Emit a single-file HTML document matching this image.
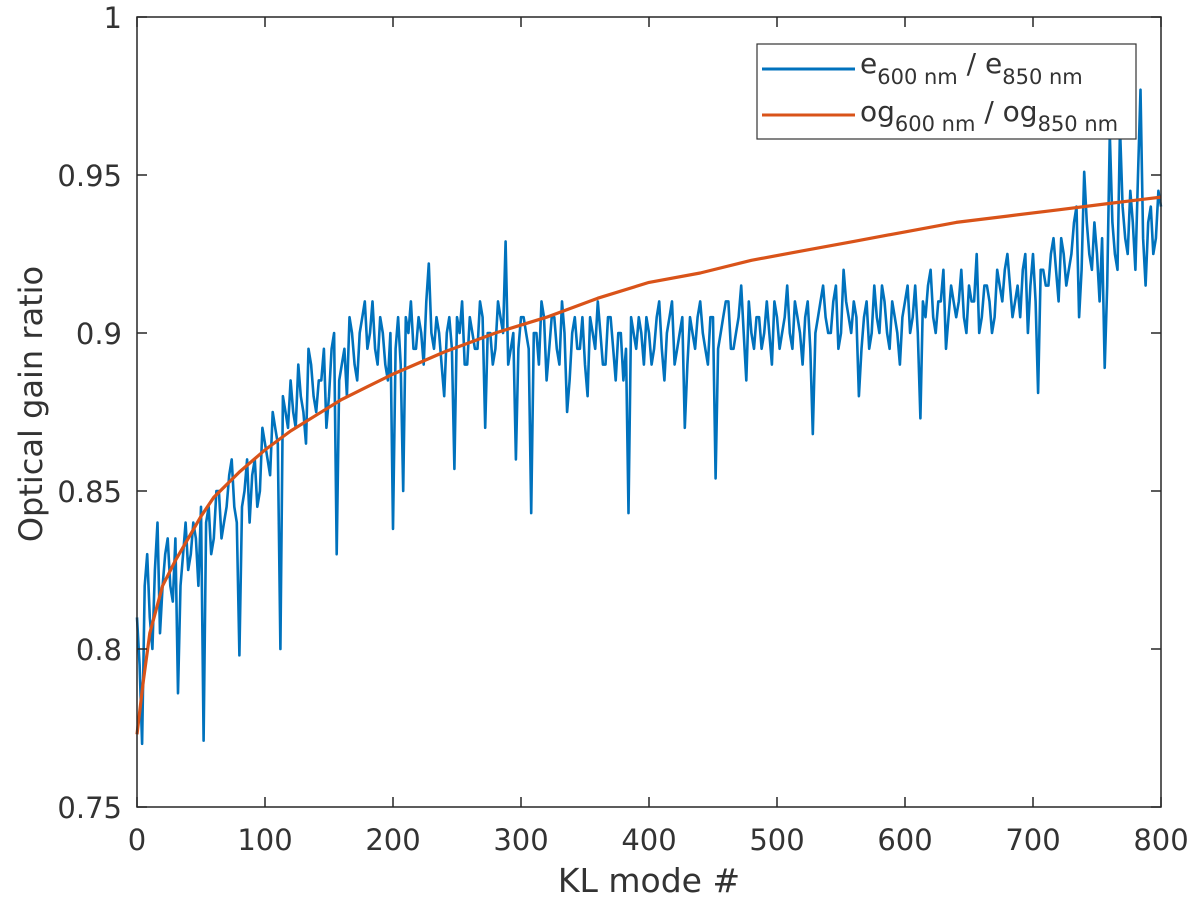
<!DOCTYPE html>
<html><head><meta charset="utf-8">
<style>
html,body{margin:0;padding:0;background:#fff;}
svg{display:block;font-family:"DejaVu Sans","Liberation Sans",sans-serif;}
</style></head>
<body>
<svg id="chart" width="1200" height="908" viewBox="0 0 1200 908" xmlns="http://www.w3.org/2000/svg">
<rect width="1200" height="908" fill="#fff"/>
<g id="plot"></g>
</svg>
<script>
const xTicks = [0,100,200,300,400,500,600,700,800];
const yTicks = [0.75,0.8,0.85,0.9,0.95,1];
const yTickLabels = ["0.75","0.8","0.85","0.9","0.95","1"];
const blueStep = 4;
const blueValues = [0.81,0.77,0.83,0.80,0.84,0.82,0.835,0.815,0.786,0.83,0.825,0.84,0.82,0.771,0.845,0.835,0.85,0.84,0.855,0.845,
0.798,0.85,0.84,0.86,0.85,0.865,0.855,0.87,0.80,0.875,0.885,0.87,0.88,0.865,0.89,0.875,0.885,0.87,0.895,0.83,
0.89,0.88,0.9,0.885,0.905,0.895,0.91,0.89,0.9,0.885,0.838,0.905,0.85,0.9,0.895,0.905,0.89,0.922,0.895,0.9,
0.88,0.905,0.857,0.9,0.89,0.905,0.895,0.91,0.87,0.9,0.895,0.905,0.929,0.895,0.86,0.905,0.9,0.843,0.9,0.91,
0.885,0.905,0.895,0.91,0.875,0.9,0.895,0.905,0.88,0.9,0.91,0.89,0.905,0.895,0.9,0.885,0.843,0.9,0.905,0.89,
0.9,0.895,0.91,0.885,0.905,0.89,0.9,0.87,0.905,0.895,0.91,0.895,0.905,0.854,0.9,0.91,0.895,0.9,0.915,0.885,
0.9,0.905,0.895,0.91,0.89,0.905,0.9,0.915,0.895,0.905,0.89,0.91,0.868,0.905,0.915,0.9,0.91,0.895,0.92,0.905,
0.91,0.88,0.905,0.895,0.915,0.9,0.91,0.895,0.905,0.89,0.91,0.9,0.915,0.873,0.905,0.92,0.9,0.91,0.895,0.915,
0.905,0.92,0.9,0.91,0.925,0.905,0.915,0.9,0.92,0.91,0.925,0.905,0.915,0.92,0.9,0.925,0.881,0.92,0.915,0.93,
0.91,0.925,0.92,0.935,0.905,0.951,0.925,0.935,0.91,0.889,0.963,0.925,0.965,0.93,0.945,0.92,0.977,0.915,0.94,0.93,0.94];
const blueMidOffset = 2;
const blueMidValues = [0.795,0.82,0.81,0.825,0.805,0.83,0.82,0.835,0.82,0.84,
0.83,0.835,0.845,0.84,0.83,0.85,0.835,0.845,0.86,0.84,
0.845,0.86,0.855,0.845,0.87,0.86,0.875,0.865,0.88,0.87,
0.875,0.89,0.875,0.895,0.88,0.885,0.895,0.88,0.9,0.885,
0.895,0.905,0.89,0.9,0.91,0.9,0.895,0.905,0.89,0.9,
0.895,0.89,0.905,0.91,0.895,0.9,0.91,0.9,0.905,0.89,
0.9,0.895,0.905,0.91,0.89,0.9,0.895,0.905,0.9,0.89,
0.91,0.9,0.89,0.9,0.895,0.905,0.895,0.9,0.89,0.905,
0.895,0.905,0.89,0.9,0.885,0.905,0.895,0.89,0.905,0.895,
0.9,0.89,0.905,0.885,0.9,0.895,0.905,0.895,0.9,0.905,
0.89,0.905,0.895,0.9,0.91,0.895,0.905,0.89,0.9,0.905,
0.9,0.89,0.905,0.895,0.905,0.91,0.895,0.905,0.9,0.91,
0.895,0.905,0.9,0.9,0.91,0.895,0.905,0.9,0.91,0.9,
0.905,0.895,0.9,0.91,0.905,0.9,0.915,0.9,0.91,0.9,
0.905,0.895,0.91,0.9,0.905,0.915,0.9,0.91,0.9,0.905,
0.915,0.905,0.9,0.91,0.915,0.905,0.91,0.92,0.905,0.91,
0.91,0.905,0.915,0.91,0.9,0.915,0.91,0.905,0.915,0.92,
0.915,0.91,0.905,0.925,0.915,0.91,0.92,0.915,0.925,0.92,
0.93,0.915,0.925,0.94,0.92,0.935,0.92,0.925,0.93,0.915,
0.935,0.92,0.94,0.925,0.935,0.95,0.93,0.935,0.925,0.945];
const orangeModes = [0,5,10,20,30,40,50,60,80,100,120,140,160,180,200,240,280,320,360,400,440,480,520,560,600,640,680,720,760,800];
const orangeValues = [0.773,0.79,0.805,0.82,0.828,0.835,0.842,0.848,0.856,0.863,0.869,0.874,0.879,0.883,0.887,0.894,0.900,0.905,0.911,0.916,0.919,0.923,0.926,0.929,0.932,0.935,0.937,0.939,0.941,0.943];

const L=137,R=1161,T=17,B=807;
const xs = v => L + (v-0)/(800-0)*(R-L);
const ys = v => B - (v-0.75)/(1-0.75)*(B-T);
const NS="http://www.w3.org/2000/svg";
const g=document.getElementById('plot');
const TXT='#333';
function mk(tag,attrs,parent){const e=document.createElementNS(NS,tag);for(const k in attrs)e.setAttribute(k,attrs[k]);(parent||g).appendChild(e);return e;}

const bluePts=[];
blueValues.forEach((v,i)=>bluePts.push([i*blueStep,v]));
blueMidValues.forEach((v,i)=>bluePts.push([i*blueStep+blueMidOffset,v]));
bluePts.sort((a,b)=>a[0]-b[0]);
let pb=bluePts.map(p=>xs(p[0]).toFixed(1)+","+ys(p[1]).toFixed(1)).join(" ");
const bl=mk('polyline',{points:pb,fill:'none',stroke:'#0072BD','stroke-width':2.6,'stroke-linejoin':'round'});


let po=orangeValues.map((v,i)=>xs(orangeModes[i]).toFixed(1)+","+ys(v).toFixed(1)).join(" ");
const ol=mk('polyline',{points:po,fill:'none',stroke:'#D95319','stroke-width':3.2,'stroke-linejoin':'round'});



const box=mk('rect',{x:L,y:T,width:R-L,height:B-T,fill:'none',stroke:'#262626','stroke-width':1.5});



xTicks.forEach(t=>{
  const x=xs(t);
  mk('line',{x1:x,y1:B,x2:x,y2:B-10,stroke:'#262626','stroke-width':1.5});
  mk('line',{x1:x,y1:T,x2:x,y2:T+10,stroke:'#262626','stroke-width':1.5});
  const tx=mk('text',{x:x,y:850,'text-anchor':'middle','font-size':29,fill:TXT});
  tx.textContent=String(t);
  
  
});
yTicks.forEach((t,i)=>{
  const y=ys(t);
  mk('line',{x1:L,y1:y,x2:L+10,y2:y,stroke:'#262626','stroke-width':1.5});
  mk('line',{x1:R,y1:y,x2:R-10,y2:y,stroke:'#262626','stroke-width':1.5});
  const tx=mk('text',{x:L-15,y:y+11,'text-anchor':'end','font-size':29,fill:TXT});
  tx.textContent=yTickLabels[i];
  
  
});
const xt=mk('text',{x:(L+R)/2,y:892,'text-anchor':'middle','font-size':33,fill:TXT});
xt.textContent='KL mode #';


const yt=mk('text',{x:0,y:0,'text-anchor':'middle','font-size':32,fill:TXT,transform:'translate(42,404) rotate(-90)'});
yt.textContent='Optical gain ratio';



const lg=mk('g',{});


mk('rect',{x:757,y:44,width:379,height:95,fill:'#fff',stroke:'#333','stroke-width':1.2},lg);
mk('line',{x1:762,y1:69,x2:855,y2:69,stroke:'#0072BD','stroke-width':3},lg);
mk('line',{x1:762,y1:115,x2:855,y2:115,stroke:'#D95319','stroke-width':3},lg);
const e1=mk('text',{x:860,y:73,'font-size':28,fill:TXT},lg);
e1.innerHTML='e<tspan dy="11" font-size="21">600 nm</tspan><tspan dy="-11"> / e</tspan><tspan dy="11" font-size="21">850 nm</tspan>';


const e2=mk('text',{x:860,y:121,'font-size':28,fill:TXT},lg);
e2.innerHTML='og<tspan dy="10" font-size="21">600 nm</tspan><tspan dy="-10"> / og</tspan><tspan dy="10" font-size="21">850 nm</tspan>';


</script>
</body></html>
